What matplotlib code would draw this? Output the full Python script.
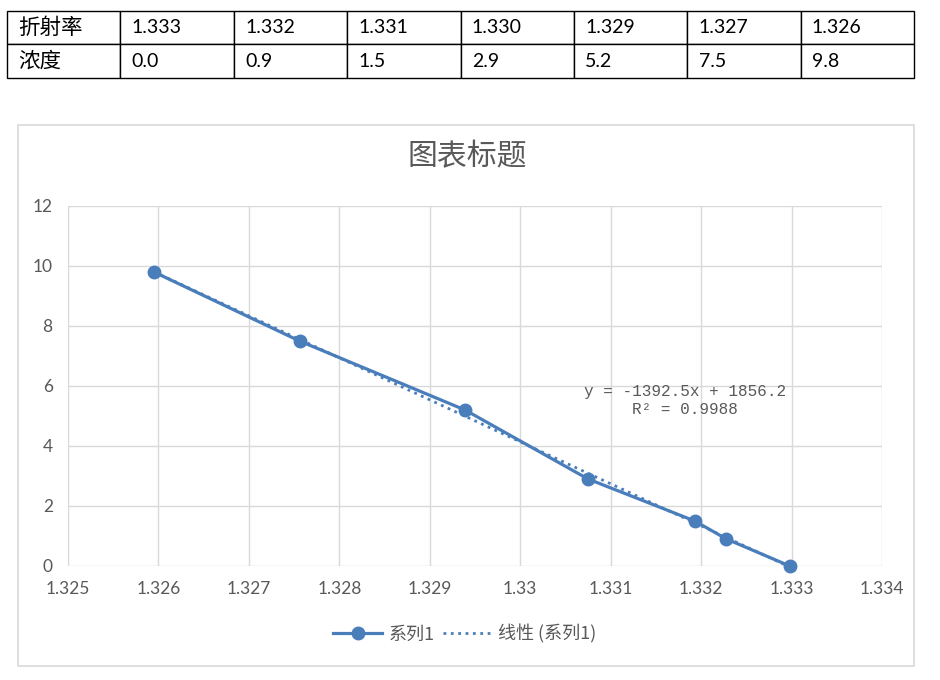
import numpy as np
import matplotlib.pyplot as plt
from matplotlib.patches import Rectangle
from matplotlib.lines import Line2D

# 表格里的数据 (四舍五入后的显示值)
table_header = ['折射率', '浓度']
table_ri = ['1.333', '1.332', '1.331', '1.330', '1.329', '1.327', '1.326']
table_conc = ['0.0', '0.9', '1.5', '2.9', '5.2', '7.5', '9.8']

# 图中的散点
ri = [1.33298, 1.33228, 1.33193, 1.33075, 1.32939, 1.32756, 1.32595]
conc = [0.0, 0.9, 1.5, 2.9, 5.2, 7.5, 9.8]

xticks = [1.325, 1.326, 1.327, 1.328, 1.329, 1.33, 1.331, 1.332, 1.333, 1.334]
xtick_labels = ['1.325', '1.326', '1.327', '1.328', '1.329', '1.33', '1.331', '1.332', '1.333', '1.334']
yticks = [0, 2, 4, 6, 8, 10, 12]

eq_text = 'y = -1392.5x + 1856.2\nR² = 0.9988'
title = '图表标题'
series_name = '系列1'
trend_name = '线性 (系列1)'

blue = '#4a7ebb'
grey = '#595959'
cjk = ['Noto Sans CJK SC', 'DejaVu Sans']

W, H = 940, 680
fig = plt.figure(figsize=(W / 100, H / 100), dpi=100)

def fx(px):
    return px / W

def fy(py):
    return 1 - py / H

# 表格
tax = fig.add_axes([fx(7), fy(78), fx(914) - fx(7), fy(10.7) - fy(78)])
tax.axis('off')
cells = [[table_header[0]] + table_ri, [table_header[1]] + table_conc]
tb = tax.table(cellText=cells, cellLoc='left', bbox=[0, 0, 1, 1])
tb.auto_set_font_size(False)
for (r, c), cell in tb.get_celld().items():
    cell.set_linewidth(1.0)
    cell.set_edgecolor('black')
    t = cell.get_text()
    if c == 0:
        t.set_fontfamily(cjk)
        t.set_fontsize(15.5)
    else:
        t.set_fontfamily(['Lato', 'DejaVu Sans'])
        t.set_fontsize(14)

# 图表外框
fig.patches.append(Rectangle((fx(18), fy(665.5)), fx(914) - fx(18), fy(125) - fy(665.5),
                             transform=fig.transFigure, fill=False,
                             edgecolor='#d9d9d9', linewidth=1.2))

ax = fig.add_axes([fx(68), fy(566), fx(882) - fx(68), fy(206) - fy(566)])

ax.plot(ri, conc, '-o', color=blue, lw=2.3, markersize=9, zorder=3, clip_on=False)

k, b = np.polyfit(ri, conc, 1)
xs = np.array([min(ri), max(ri)])
ax.plot(xs, k * xs + b, ':', color=blue, lw=2.0, zorder=4)

ax.text(1.331825, 5.52, eq_text, ha='center', va='center', multialignment='center',
        fontsize=11.5, color=grey, family=['Liberation Mono', 'DejaVu Sans Mono'])

ax.set_xlim(1.325, 1.334)
ax.set_ylim(0, 12)
ax.set_xticks(xticks)
ax.set_xticklabels(xtick_labels)
ax.set_yticks(yticks)
ax.grid(True, color='#d9d9d9', lw=1.0)
ax.set_axisbelow(True)
for s in ax.spines.values():
    s.set_visible(False)
ax.tick_params(length=0, colors=grey, labelsize=12.5)
ax.tick_params(axis='x', pad=11)
ax.tick_params(axis='y', pad=11)
for lab in ax.get_xticklabels() + ax.get_yticklabels():
    lab.set_fontfamily(['Lato', 'DejaVu Sans'])

fig.text(fx(467), fy(157), title, ha='center', va='center', fontsize=21.5,
         color=grey, family=cjk)

handles = [Line2D([], [], color=blue, lw=2.3, marker='o', markersize=9),
           Line2D([], [], color=blue, lw=2.0, ls=':')]
leg = fig.legend(handles, [series_name, trend_name], loc='center',
                 bbox_to_anchor=(fx(465), fy(634)), ncol=2, frameon=False,
                 handlelength=2.7, columnspacing=0.5, handletextpad=0.35,
                 prop={'family': cjk, 'size': 13})
for t in leg.get_texts():
    t.set_color(grey)

fig.savefig('out.png', dpi=100)
